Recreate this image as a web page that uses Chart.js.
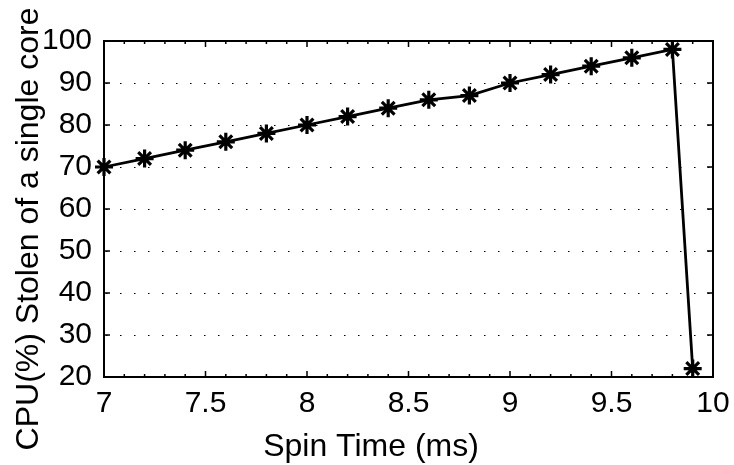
<!DOCTYPE html>
<html><head><meta charset="utf-8">
<script src="https://cdn.jsdelivr.net/npm/chart.js@4"></script>
<style>html,body{margin:0;padding:0;background:#fff;} canvas{display:block;}</style>
</head><body>
<canvas id="c" width="734" height="465"></canvas>
<script>
const spinTime  = [7.0, 7.2, 7.4, 7.6, 7.8, 8.0, 8.2, 8.4, 8.6, 8.8, 9.0, 9.2, 9.4, 9.6, 9.8, 9.9];
const cpuStolen = [70, 72, 74, 76, 78, 80, 82, 84, 86, 87, 90, 92, 94, 96, 98, 22];
const xTickValues = [7, 7.5, 8, 8.5, 9, 9.5, 10];
const xTickLabels = ['7', '7.5', '8', '8.5', '9', '9.5', '10'];
const yTickValues = [20, 30, 40, 50, 60, 70, 80, 90, 100];
const yTickLabels = ['20', '30', '40', '50', '60', '70', '80', '90', '100'];
const xLabel = 'Spin Time (ms)';
const yLabel = 'CPU(%) Stolen of a single core';

const FONT = '"Liberation Sans", Arial, Helvetica, sans-serif';

const framePlugin = {
  id: 'frame',
  beforeDatasetsDraw(chart) {
    const {ctx, chartArea: {left, right, top, bottom}, scales: {x, y}} = chart;
    ctx.save();
    // dotted horizontal grid
    ctx.strokeStyle = '#000';
    ctx.lineWidth = 1.2;
    ctx.setLineDash([1.5, 12.5]);
    ctx.lineDashOffset = 12;
    yTickValues.forEach(v => {
      if (v === y.min || v === y.max) return;
      const py = Math.round(y.getPixelForValue(v)) + 0.5;
      ctx.beginPath(); ctx.moveTo(left, py); ctx.lineTo(right, py); ctx.stroke();
    });
    ctx.setLineDash([]);
    // frame
    ctx.lineWidth = 2;
    ctx.strokeRect(left, top, right - left, bottom - top);
    // ticks
    ctx.lineWidth = 1.5;
    ctx.beginPath();
    xTickValues.forEach(v => {
      const px = x.getPixelForValue(v);
      ctx.moveTo(px, bottom); ctx.lineTo(px, bottom - 6);
      ctx.moveTo(px, top); ctx.lineTo(px, top + 6);
    });
    for (let k = 1; k < 30; k++) {
      if (k % 5 === 0) continue;
      const px = x.getPixelForValue(x.min + k * 0.1);
      ctx.moveTo(px, bottom); ctx.lineTo(px, bottom - 3);
      ctx.moveTo(px, top); ctx.lineTo(px, top + 3);
    }
    yTickValues.forEach(v => {
      const py = y.getPixelForValue(v);
      ctx.moveTo(left, py); ctx.lineTo(left + 6, py);
      ctx.moveTo(right, py); ctx.lineTo(right - 6, py);
    });
    ctx.stroke();
    ctx.restore();
  },
  afterDraw(chart) {
    const {ctx} = chart;
    ctx.save();
    ctx.fillStyle = '#000';
    ctx.font = '32px ' + FONT;
    ctx.textAlign = 'center';
    ctx.textBaseline = 'alphabetic';
    ctx.fillText(xLabel, 371, 455.5);
    ctx.translate(37.5, 229);
    ctx.rotate(-Math.PI / 2);
    ctx.fillText(yLabel, 0, 0);
    ctx.restore();
  }
};

new Chart(document.getElementById('c'), {
  type: 'line',
  data: {
    datasets: [{
      data: spinTime.map((t, i) => ({x: t, y: cpuStolen[i]})),
      borderColor: '#000',
      borderWidth: 2.8,
      pointStyle: 'star',
      pointRadius: 9,
      pointBorderWidth: 3.2,
      pointBorderColor: '#000',
      pointBackgroundColor: '#000',
      tension: 0,
      fill: false,
      clip: false
    }]
  },
  options: {
    responsive: false,
    animation: false,
    devicePixelRatio: 1,
    layout: {padding: {top: 41, right: 21, left: 0, bottom: 0}},
    plugins: {legend: {display: false}, tooltip: {enabled: false}},
    scales: {
      x: {
        type: 'linear', min: 7, max: 10,
        afterBuildTicks: s => { s.ticks = xTickValues.map(v => ({value: v})); },
        afterFit: s => { s.height = 88; s.paddingLeft = 0; s.paddingRight = 0; },
        ticks: {callback: (v, i) => xTickLabels[i], font: {family: FONT, size: 30}, color: '#000', padding: 9, maxRotation: 0, autoSkip: false},
        grid: {display: false, drawTicks: false},
        border: {display: false}
      },
      y: {
        type: 'linear', min: 20, max: 100,
        afterBuildTicks: s => { s.ticks = yTickValues.map(v => ({value: v})); },
        afterFit: s => { s.width = 104; s.paddingTop = 0; s.paddingBottom = 0; },
        ticks: {callback: (v, i) => yTickLabels[i], font: {family: FONT, size: 30}, color: '#000', padding: 12, autoSkip: false},
        grid: {display: false, drawTicks: false},
        border: {display: false}
      }
    }
  },
  plugins: [framePlugin]
});
</script>
</body></html>
